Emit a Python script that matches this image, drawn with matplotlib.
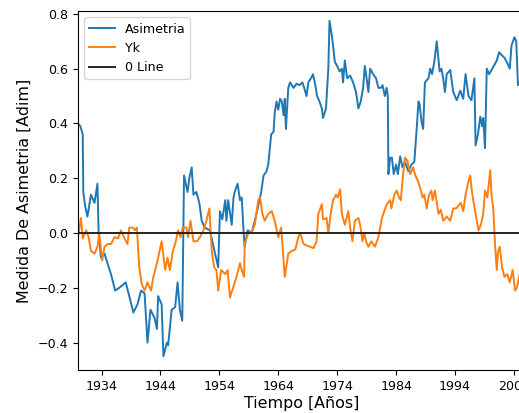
import numpy as np
import matplotlib
matplotlib.use("Agg")
import matplotlib.pyplot as plt

# Asimetria
anos_asim = [1930.0, 1930.4, 1930.8, 1930.9, 1931.2, 1931.6, 1932.2, 1932.8, 1933.3, 1933.5,
             1933.9, 1934.5, 1935.0, 1935.6, 1936.3, 1937.0, 1938.1, 1938.7, 1939.4, 1940.1,
             1940.7, 1941.3, 1941.8, 1942.3, 1943.0, 1943.4, 1943.6, 1944.2, 1944.5, 1945.1,
             1945.3, 1945.9, 1946.5, 1946.9, 1947.3, 1947.7, 1948.0, 1948.6, 1948.9, 1949.3,
             1949.6, 1950.1, 1950.6, 1951.0, 1951.5, 1952.4, 1953.0, 1953.8, 1954.1, 1954.5,
             1955.0, 1955.2, 1955.5, 1956.1, 1956.4, 1956.6, 1957.1, 1957.5, 1957.8, 1958.1,
             1958.3, 1958.8, 1959.5, 1960.3, 1960.9, 1961.1, 1961.5, 1962.0, 1962.3, 1962.8,
             1963.2, 1963.4, 1963.7, 1964.0, 1964.3, 1964.6, 1964.9, 1965.1, 1965.3, 1965.7,
             1966.0, 1966.6, 1967.1, 1967.6, 1968.1, 1968.4, 1968.8, 1969.1, 1969.7, 1969.9,
             1970.2, 1970.6, 1971.0, 1971.4, 1971.6, 1972.1, 1972.5, 1972.7, 1973.1, 1973.3,
             1973.6, 1974.0, 1974.4, 1974.8, 1975.0, 1975.3, 1975.7, 1976.2, 1976.7, 1977.2,
             1977.6, 1978.0, 1978.4, 1978.7, 1979.0, 1979.3, 1979.6, 1980.1, 1980.6, 1981.0,
             1981.4, 1981.7, 1982.1, 1982.4, 1982.6, 1982.7, 1983.0, 1983.3, 1983.6, 1984.0,
             1984.3, 1984.7, 1985.1, 1985.5, 1986.1, 1986.6, 1987.1, 1987.5, 1987.8, 1988.0,
             1988.3, 1988.6, 1988.9, 1989.5, 1989.8, 1990.1, 1990.5, 1990.9, 1991.2, 1991.4,
             1991.7, 1992.0, 1992.3, 1992.6, 1993.2, 1993.7, 1994.3, 1994.9, 1995.4, 1995.8,
             1996.3, 1996.8, 1997.3, 1997.5, 1997.9, 1998.3, 1998.6, 1998.8, 1999.1, 1999.4,
             1999.8, 2000.2, 2000.6, 2001.1, 2001.5, 2001.9, 2002.4, 2002.9, 2003.3, 2003.6,
             2004.1, 2004.4, 2004.7, 2005.0]
asimetria = [0.40, 0.39, 0.36, 0.15, 0.10, 0.06, 0.14, 0.11, 0.18, 0.00,
             -0.09, -0.075, -0.11, -0.15, -0.21, -0.20, -0.18, -0.23, -0.29, -0.26,
             -0.21, -0.22, -0.40, -0.28, -0.31, -0.35, -0.23, -0.26, -0.45, -0.40,
             -0.41, -0.28, -0.27, -0.18, -0.28, -0.32, 0.21, 0.15, 0.20, 0.24,
             0.14, 0.15, 0.11, 0.045, 0.02, 0.01, -0.05, -0.125, 0.08, 0.05,
             0.12, 0.045, 0.12, 0.03, 0.13, 0.15, 0.18, 0.12, 0.13, 0.01,
             -0.05, 0.01, 0.00, 0.07, 0.13, 0.15, 0.21, 0.225, 0.25, 0.36,
             0.37, 0.44, 0.48, 0.45, 0.49, 0.48, 0.43, 0.49, 0.38, 0.53,
             0.55, 0.53, 0.545, 0.54, 0.55, 0.53, 0.50, 0.55, 0.57, 0.58,
             0.55, 0.50, 0.48, 0.455, 0.42, 0.455, 0.60, 0.775, 0.72, 0.685,
             0.625, 0.61, 0.59, 0.60, 0.55, 0.63, 0.565, 0.575, 0.55, 0.515,
             0.455, 0.48, 0.53, 0.61, 0.565, 0.515, 0.60, 0.58, 0.565, 0.53,
             0.53, 0.54, 0.50, 0.53, 0.50, 0.215, 0.275, 0.275, 0.215, 0.25,
             0.215, 0.28, 0.24, 0.26, 0.225, 0.25, 0.26, 0.38, 0.48, 0.47,
             0.41, 0.38, 0.55, 0.565, 0.60, 0.58, 0.625, 0.70, 0.635, 0.59,
             0.60, 0.565, 0.515, 0.58, 0.595, 0.515, 0.485, 0.52, 0.49, 0.58,
             0.50, 0.485, 0.565, 0.32, 0.36, 0.425, 0.39, 0.42, 0.31, 0.60,
             0.58, 0.595, 0.61, 0.63, 0.66, 0.65, 0.64, 0.62, 0.60, 0.685,
             0.715, 0.70, 0.54, 0.55]

# Yk
anos_yk = [1930.0, 1930.5, 1930.8, 1931.4, 1931.8, 1932.2, 1932.8, 1933.3, 1933.6, 1934.1,
           1934.5, 1935.0, 1935.6, 1936.2, 1936.8, 1937.3, 1937.8, 1938.4, 1938.7, 1939.3,
           1939.7, 1940.0, 1940.4, 1940.8, 1941.3, 1941.8, 1942.4, 1942.8, 1943.4, 1944.2,
           1944.8, 1945.2, 1945.6, 1946.1, 1946.5, 1947.0, 1947.4, 1947.8, 1948.4, 1948.7,
           1949.1, 1949.6, 1950.2, 1950.7, 1951.3, 1951.8, 1952.3, 1952.7, 1953.1, 1953.5,
           1953.8, 1954.3, 1955.0, 1955.4, 1955.8, 1956.4, 1956.9, 1957.5, 1957.8, 1958.2,
           1958.3, 1958.9, 1959.5, 1960.0, 1960.6, 1960.9, 1961.3, 1961.7, 1962.3, 1962.9,
           1963.4, 1964.0, 1964.5, 1965.1, 1965.7, 1966.3, 1966.9, 1967.4, 1967.7, 1968.3,
           1968.8, 1969.4, 1970.0, 1970.5, 1970.8, 1971.4, 1971.6, 1972.2, 1972.5, 1972.9,
           1973.3, 1973.8, 1974.1, 1974.5, 1974.8, 1975.3, 1975.9, 1976.2, 1976.6, 1977.0,
           1977.6, 1977.9, 1978.3, 1978.6, 1978.9, 1979.3, 1979.8, 1980.4, 1981.0, 1981.6,
           1982.0, 1982.4, 1983.0, 1983.2, 1983.7, 1984.1, 1984.5, 1984.8, 1985.2, 1985.5,
           1985.9, 1986.4, 1986.9, 1987.2, 1987.7, 1988.1, 1988.5, 1988.8, 1989.2, 1989.6,
           1990.0, 1990.2, 1990.6, 1991.2, 1991.6, 1992.0, 1992.6, 1993.2, 1993.7, 1994.2,
           1995.0, 1995.4, 1995.8, 1996.3, 1996.6, 1996.8, 1997.1, 1997.5, 1998.0, 1998.4,
           1998.8, 1999.1, 1999.5, 2000.0, 2000.2, 2000.5, 2000.7, 2000.8, 2001.1, 2001.3,
           2001.6, 2002.0, 2002.4, 2002.9, 2003.3, 2003.8, 2004.2, 2004.5, 2005.0]
yk = [-0.015, 0.055, -0.02, 0.01, -0.015, -0.065, -0.075, -0.05, 0.00, -0.10,
      -0.05, -0.04, -0.04, -0.015, -0.02, 0.01, -0.015, -0.04, 0.02, 0.02,
      0.01, 0.02, -0.125, -0.185, -0.21, -0.18, -0.21, -0.16, -0.11, -0.03,
      -0.135, -0.09, -0.135, -0.065, -0.04, 0.01, -0.015, 0.02, 0.02, -0.015,
      0.045, -0.03, -0.03, -0.015, 0.01, 0.045, 0.09, -0.065, -0.125, -0.135,
      -0.21, -0.135, -0.15, -0.135, -0.235, -0.195, -0.16, -0.11, -0.135, -0.16,
      -0.04, 0.00, 0.005, 0.03, 0.12, 0.13, 0.07, 0.045, 0.07, 0.08,
      0.045, -0.015, 0.02, -0.16, -0.075, -0.065, -0.06, -0.015, 0.00, -0.04,
      -0.045, -0.05, -0.055, -0.03, 0.07, 0.105, 0.05, 0.055, 0.00, 0.07,
      0.12, 0.14, 0.13, 0.16, 0.07, 0.03, 0.08, 0.02, -0.03, 0.045,
      0.055, 0.03, -0.03, 0.00, -0.03, -0.05, -0.03, -0.05, -0.015, 0.055,
      0.08, 0.105, 0.12, 0.09, 0.14, 0.155, 0.13, 0.12, 0.215, 0.275,
      0.265, 0.215, 0.24, 0.215, 0.19, 0.165, 0.13, 0.14, 0.09, 0.14,
      0.155, 0.12, 0.155, 0.07, 0.085, 0.045, 0.06, 0.045, 0.09, 0.09,
      0.11, 0.08, 0.14, 0.19, 0.21, 0.165, 0.12, 0.07, 0.01, 0.03,
      0.07, 0.155, 0.13, 0.23, 0.14, 0.09, 0.00, -0.04, -0.135, -0.07,
      -0.05, -0.125, -0.16, -0.15, -0.18, -0.135, -0.21, -0.20, -0.15]

ticks_x = [1934, 1944, 1954, 1964, 1974, 1984, 1994, 2004]

fig = plt.figure(figsize=(5.19, 4.13), dpi=100)
ax = fig.add_axes([0.1503, 0.104, 0.8625, 0.869])

ax.plot(anos_asim, asimetria, color="#1f77b4", lw=1.4, label="Asimetria")
ax.plot(anos_yk, yk, color="#ff7f0e", lw=1.4, label="Yk")
ax.axhline(0, color="#222222", lw=1.4, label="0 Line")

ax.set_xlim(1930, 2006)
ax.set_ylim(-0.5, 0.81)
ax.set_xticks(ticks_x)
ax.tick_params(labelsize=9.1)
ax.set_xlabel("Tiempo [Años]", fontsize=11.4, labelpad=2)
ax.set_ylabel("Medida De Asimetria [Adim]", fontsize=11.4)
ax.legend(loc="upper left", fontsize=9.1)

fig.savefig("out.png", dpi=100)
